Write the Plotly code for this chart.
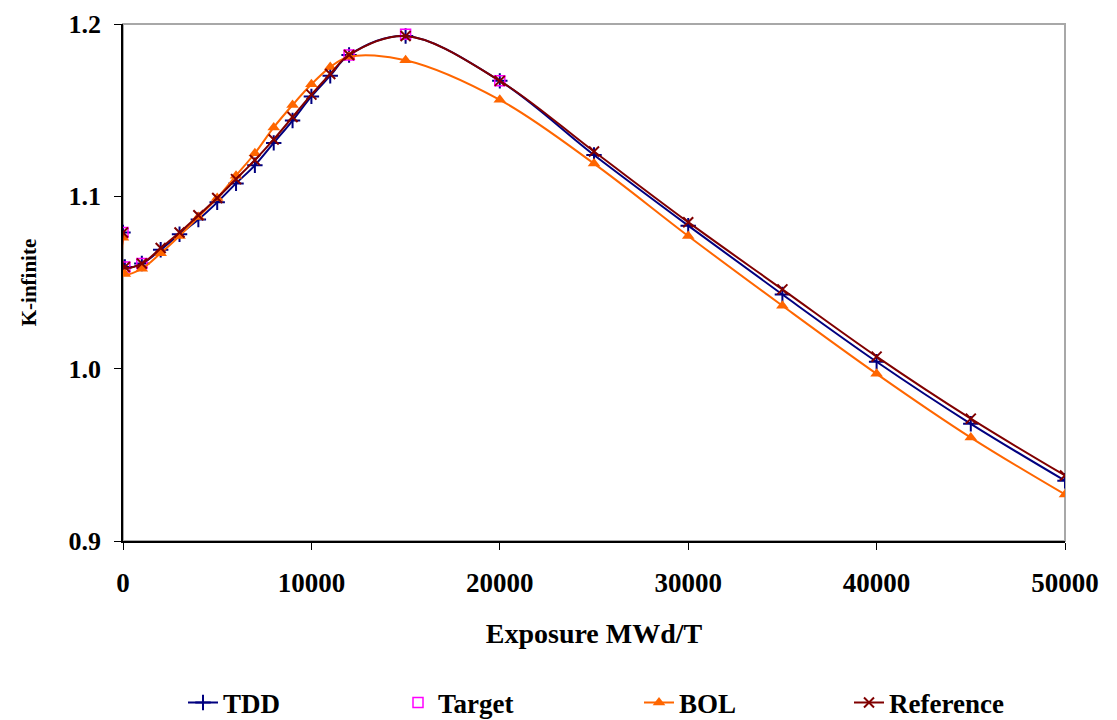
import plotly.graph_objects as go

exposure = [0, 100, 1000, 2000, 3000, 4000, 5000, 6000, 7000, 8000, 9000, 10000,
            11000, 12000, 15000, 20000, 25000, 30000, 35000, 40000, 45000, 50000]
tdd = [1.079, 1.059, 1.061, 1.069, 1.078, 1.0865, 1.0965, 1.1075, 1.118, 1.131, 1.144, 1.158,
       1.170, 1.182, 1.193, 1.167, 1.124, 1.083, 1.043, 1.004, 0.968, 0.935]
reference = [1.079, 1.059, 1.061, 1.070, 1.079, 1.089, 1.099, 1.110, 1.121, 1.133, 1.146, 1.159,
             1.171, 1.182, 1.193, 1.167, 1.126, 1.085, 1.046, 1.007, 0.971, 0.938]
bol = [1.076, 1.055, 1.058, 1.067, 1.077, 1.088, 1.099, 1.112, 1.125, 1.140, 1.153, 1.165,
       1.175, 1.181, 1.179, 1.156, 1.119, 1.077, 1.0365, 0.997, 0.960, 0.927]
target_x = [0, 100, 1000, 12000, 15000, 20000]
target_y = [1.079, 1.059, 1.061, 1.182, 1.194, 1.167]

x_ticks = [0, 10000, 20000, 30000, 40000, 50000]
x_tick_text = ["0", "10000", "20000", "30000", "40000", "50000"]
y_ticks = [0.9, 1.0, 1.1, 1.2]
y_tick_text = ["0.9", "1.0", "1.1", "1.2"]

FONT = "Liberation Serif"
LEG_FONT = dict(family=FONT, size=27, color="black", weight="bold")

fig = go.Figure()
fig.add_trace(go.Scatter(
    x=exposure, y=tdd, name="TDD", mode="lines+markers", legend="legend",
    line=dict(color="#000080", width=2, shape="spline"),
    marker=dict(symbol="cross-thin", size=11, line=dict(color="#000080", width=2))))
fig.add_trace(go.Scatter(
    x=target_x, y=target_y, name="Target", mode="markers", legend="legend2",
    marker=dict(symbol="square-open", size=10, color="#FF00FF", line=dict(width=1.5))))
fig.add_trace(go.Scatter(
    x=exposure, y=bol, name="BOL", mode="lines+markers", legend="legend3",
    line=dict(color="#FF6600", width=2, shape="spline"),
    marker=dict(symbol="triangle-up", size=11, color="#FF6600")))
fig.add_trace(go.Scatter(
    x=exposure, y=reference, name="Reference", mode="lines+markers", legend="legend4",
    line=dict(color="#800000", width=2, shape="spline"),
    marker=dict(symbol="x-thin", size=10, line=dict(color="#800000", width=2))))

fig.add_shape(type="rect", xref="paper", yref="paper", x0=0, y0=0, x1=1, y1=1,
              line=dict(color="#A8A8A8", width=2), layer="below")

PLOT_L, PLOT_W = 123, 942
PLOT_B_FIG, PLOT_H = 720 - 187, 720 - 187 - 16


def leg(px_left):
    return dict(orientation="h", x=(px_left - PLOT_L) / PLOT_W, xanchor="left",
                y=(PLOT_B_FIG - 695) / PLOT_H, yanchor="middle", font=LEG_FONT,
                itemwidth=30, bgcolor="rgba(0,0,0,0)")


# page body has an 8px margin, so the figure is shifted by 8px right and down
fig.update_layout(
    width=1117, height=720,
    margin=dict(l=115, r=60, t=16, b=187, autoexpand=False),
    paper_bgcolor="white", plot_bgcolor="white",
    font=dict(family=FONT, color="black"),
    showlegend=True,
    legend=leg(183),
    legend2=leg(398),
    legend3=leg(639),
    legend4=leg(849),
    xaxis=dict(range=[0, 50000], tickvals=x_ticks, ticktext=x_tick_text, showgrid=False,
               zeroline=False, showline=True, linecolor="black", linewidth=1.5,
               ticks="outside", ticklen=7, tickcolor="black",
               tickfont=dict(family=FONT, size=27, color="black", weight="bold"),
               ticklabelstandoff=10, ticklabeloverflow="allow",
               title=dict(text="Exposure MWd/T",
                          font=dict(family=FONT, size=28, weight="bold"), standoff=26)),
    yaxis=dict(range=[0.9, 1.2], tickvals=y_ticks, ticktext=y_tick_text, showgrid=False,
               zeroline=False, showline=True, linecolor="black", linewidth=1.5,
               ticks="outside", ticklen=7, tickcolor="black",
               tickfont=dict(family=FONT, size=26, color="black", weight="bold"),
               ticklabelstandoff=8, ticklabeloverflow="allow",
               title=dict(text="K-infinite",
                          font=dict(family=FONT, size=21, weight="bold"), standoff=26)),
)

fig.write_html("out.html")
